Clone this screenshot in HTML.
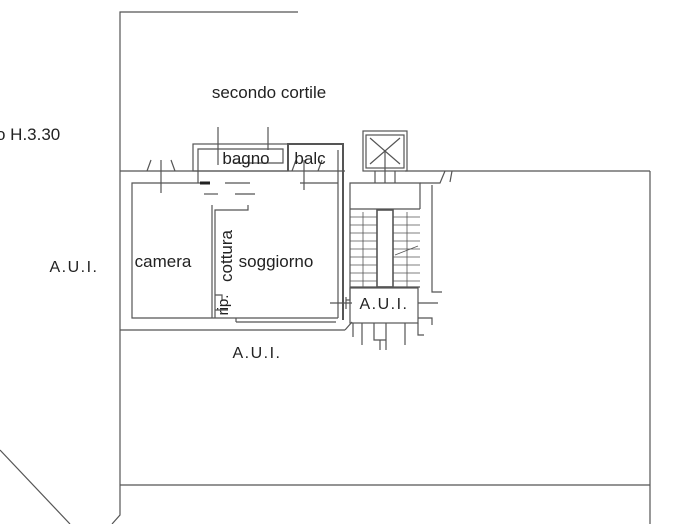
<!DOCTYPE html>
<html><head><style>
html,body{margin:0;padding:0;background:#fff;}
svg{display:block;}
text{font-family:"Liberation Sans",sans-serif;fill:#222;}
</style></head><body>
<svg width="699" height="524" viewBox="0 0 699 524" xmlns="http://www.w3.org/2000/svg">
<g stroke="#555" stroke-width="1.2" fill="none">
<polyline points="298,12 120,12 120,515 112,524"/>
<line x1="0" y1="450" x2="70" y2="524"/>
<line x1="120" y1="171" x2="345" y2="171"/>
<line x1="405" y1="171" x2="650" y2="171"/>
<line x1="650" y1="171" x2="650" y2="524"/>
<line x1="120" y1="485" x2="650" y2="485"/>
<line x1="120" y1="330" x2="345" y2="330"/>
<line x1="345" y1="330" x2="352" y2="322"/>
<rect x="193" y="144" width="95" height="27"/>
<polyline points="198,183 198,149 283,149 283,163 233,163"/>
<polyline points="288,171 288,144 343,144 343,320" stroke-width="2"/>
<line x1="338" y1="150" x2="338" y2="318"/>
<polyline points="200,183 132,183 132,318 338,318"/>
<polyline points="212,318 212,205"/>
<polyline points="215,318 215,210 248,210 248,205"/>
<line x1="236" y1="322" x2="336" y2="322"/>
<line x1="236" y1="318" x2="236" y2="322"/>
<line x1="200" y1="183" x2="210" y2="183" stroke-width="3" stroke="#222"/>
<line x1="225" y1="183" x2="250" y2="183"/>
<line x1="300" y1="183" x2="338" y2="183"/>
<line x1="204" y1="194" x2="218" y2="194"/><line x1="235" y1="194" x2="255" y2="194"/>
<line x1="218" y1="127" x2="218" y2="165"/><line x1="268" y1="127" x2="268" y2="150"/>
<line x1="161" y1="160" x2="161" y2="193"/><line x1="304" y1="160" x2="304" y2="190"/>
<path d="M147,171 L151,160 M175,171 L171,160 M292,171 L296,160 M318,171 L322,160 M450,182 L452,171"/>
<path d="M215,295 L222,295 L222,300 M215,310 L228,310"/>
<rect x="363" y="131" width="44" height="40"/>
<rect x="366" y="135" width="38" height="33"/>
<path d="M370,138 L400,164 M400,138 L370,164"/>
<line x1="375" y1="171" x2="375" y2="183"/><line x1="395" y1="171" x2="395" y2="183"/>
<line x1="385" y1="150" x2="385" y2="183"/>
<polyline points="346,300 350,300 350,183 420,183 420,209"/>
<line x1="350" y1="209" x2="420" y2="209"/>
<rect x="377" y="210" width="16" height="77" stroke-width="1.6"/>
<g stroke-width="0.8">
<line x1="350" y1="217" x2="377" y2="217"/><line x1="350" y1="225" x2="377" y2="225"/><line x1="350" y1="233" x2="377" y2="233"/><line x1="350" y1="241" x2="377" y2="241"/><line x1="350" y1="249" x2="377" y2="249"/><line x1="350" y1="257" x2="377" y2="257"/><line x1="350" y1="265" x2="377" y2="265"/><line x1="350" y1="273" x2="377" y2="273"/><line x1="350" y1="281" x2="377" y2="281"/>
<line x1="393" y1="217" x2="420" y2="217"/><line x1="393" y1="225" x2="420" y2="225"/><line x1="393" y1="233" x2="420" y2="233"/><line x1="393" y1="241" x2="420" y2="241"/><line x1="393" y1="249" x2="420" y2="249"/><line x1="393" y1="257" x2="420" y2="257"/><line x1="393" y1="265" x2="420" y2="265"/><line x1="393" y1="273" x2="420" y2="273"/><line x1="393" y1="281" x2="420" y2="281"/>
<line x1="363" y1="212" x2="363" y2="287"/><line x1="407" y1="212" x2="407" y2="287"/>
<line x1="395" y1="255" x2="418" y2="246"/>
</g>
<line x1="350" y1="287" x2="420" y2="287"/>
<polyline points="432,185 432,292 442,292"/>
<path d="M420,183 L440,183 L445,171"/>
<rect x="350" y="288" width="68" height="35"/>
<line x1="330" y1="303" x2="352" y2="303"/><line x1="346" y1="297" x2="346" y2="309"/>
<line x1="418" y1="303" x2="438" y2="303"/>
<path d="M418,318 L432,318 L432,325 M353,323 L353,337 M362,323 L362,345 M374,323 L374,340 L386,340 L386,323 M380,340 L380,350 M386,340 L386,350 M405,323 L405,345 M418,323 L418,335 L424,335"/>
</g>
<text x="269" y="98" font-size="17" text-anchor="middle">secondo cortile</text>
<text x="-4" y="140" font-size="17">o H.3.30</text>
<text x="74" y="272" font-size="16" letter-spacing="1.5" text-anchor="middle">A.U.I.</text>
<text x="163" y="267" font-size="17" text-anchor="middle">camera</text>
<text x="276" y="267" font-size="17" text-anchor="middle">soggiorno</text>
<text x="246" y="164" font-size="17" text-anchor="middle">bagno</text>
<text x="310" y="164" font-size="17" text-anchor="middle">balc</text>
<text x="384" y="309" font-size="16" letter-spacing="1.5" text-anchor="middle">A.U.I.</text>
<text x="257" y="358" font-size="16" letter-spacing="1.5" text-anchor="middle">A.U.I.</text>
<text transform="translate(232,256) rotate(-90)" font-size="17" text-anchor="middle">cottura</text>
<text transform="translate(228,305) rotate(-90)" font-size="15" text-anchor="middle">rip.</text>
</svg>
</body></html>
